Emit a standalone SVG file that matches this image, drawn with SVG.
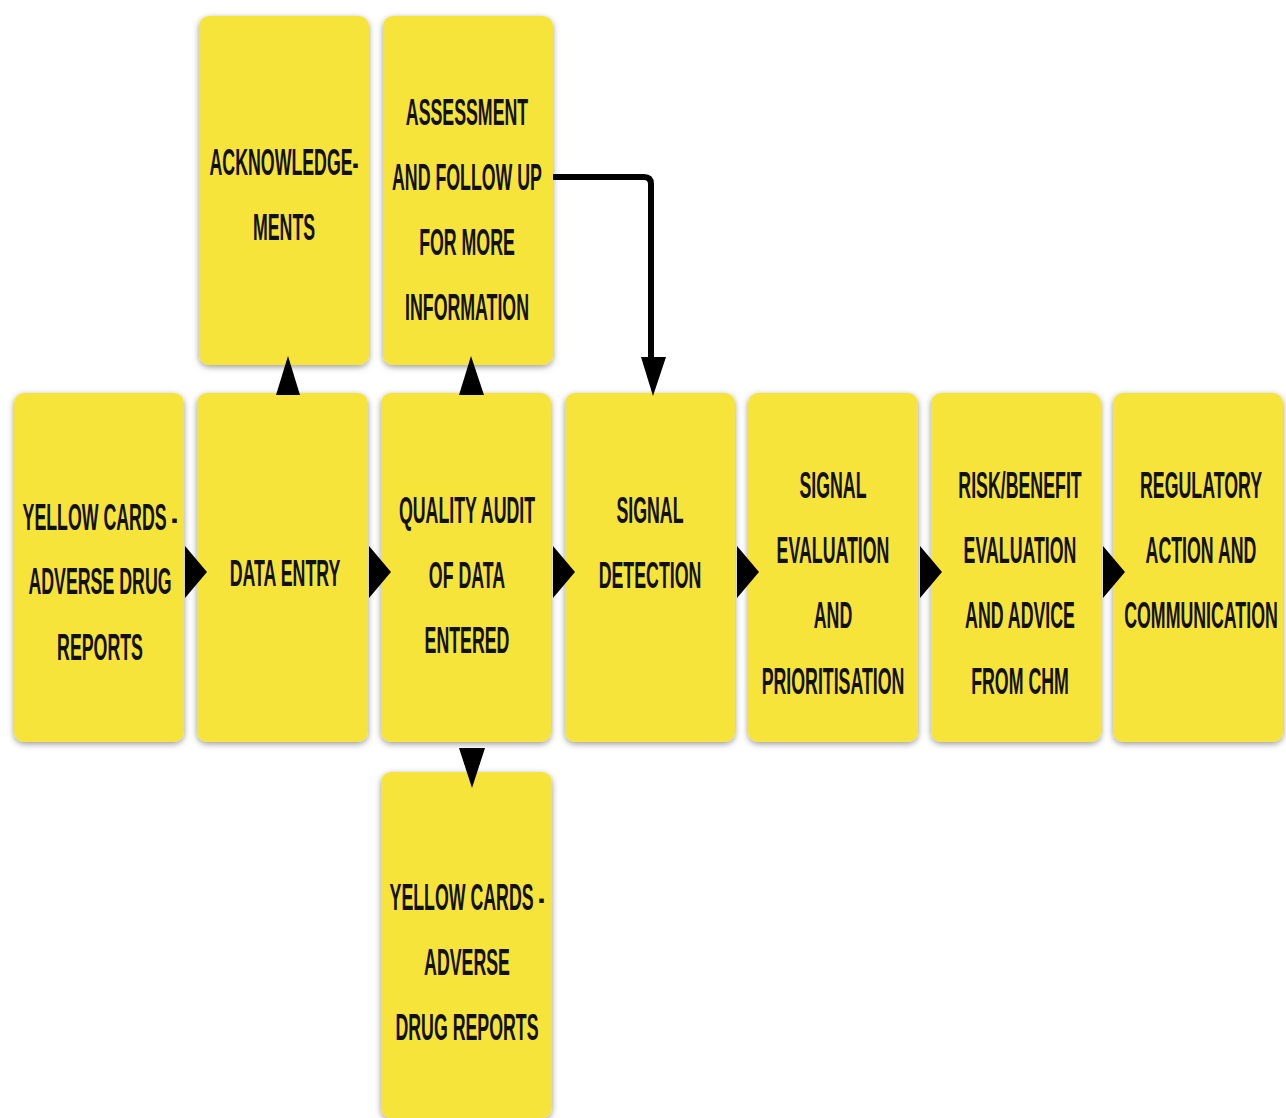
<svg xmlns="http://www.w3.org/2000/svg" width="1286" height="1118" viewBox="0 0 1286 1118">
<style>
.box{fill:#F7E43A;filter:url(#sh);}
.t{font-family:"Liberation Sans",Arial,sans-serif;font-weight:bold;font-size:37px;fill:#111;text-anchor:middle;}
.ah{fill:#000;}
.ln{fill:none;stroke:#000;stroke-width:6;}
</style>
<defs>
<filter id="sh" x="-10%" y="-10%" width="120%" height="120%">
<feDropShadow dx="0" dy="2" stdDeviation="3" flood-color="#000" flood-opacity="0.4"/>
</filter>
</defs>
<rect width="1286" height="1118" fill="#fff"/>

<g id="n-yellow1">
<rect class="box" x="14" y="393" width="170" height="349" rx="10"/>
<g transform="translate(100,0) scale(0.48,1)" class="t">
<text class="t" x="0" y="530">YELLOW CARDS -</text>
<text class="t" x="0" y="594">ADVERSE DRUG</text>
<text class="t" x="0" y="660">REPORTS</text>
</g>
</g>

<g id="n-dataentry">
<rect class="box" x="197" y="393" width="171" height="349" rx="10"/>
<g transform="translate(285,0) scale(0.48,1)">
<text class="t" x="0" y="586">DATA ENTRY</text>
</g>
</g>

<g id="n-quality">
<rect class="box" x="381" y="393" width="170" height="349" rx="10"/>
<g transform="translate(467,0) scale(0.48,1)">
<text class="t" x="0" y="523">QUALITY AUDIT</text>
<text class="t" x="0" y="588">OF DATA</text>
<text class="t" x="0" y="653">ENTERED</text>
</g>
</g>

<g id="n-signaldet">
<rect class="box" x="565" y="393" width="170" height="349" rx="10"/>
<g transform="translate(650,0) scale(0.48,1)">
<text class="t" x="0" y="523">SIGNAL</text>
<text class="t" x="0" y="588">DETECTION</text>
</g>
</g>

<g id="n-signaleval">
<rect class="box" x="748" y="393" width="170" height="349" rx="10"/>
<g transform="translate(833,0) scale(0.48,1)">
<text class="t" x="0" y="498">SIGNAL</text>
<text class="t" x="0" y="563">EVALUATION</text>
<text class="t" x="0" y="628">AND</text>
<text class="t" x="0" y="694">PRIORITISATION</text>
</g>
</g>

<g id="n-risk">
<rect class="box" x="931" y="393" width="170" height="349" rx="10"/>
<g transform="translate(1020,0) scale(0.48,1)">
<text class="t" x="0" y="498">RISK/BENEFIT</text>
<text class="t" x="0" y="563">EVALUATION</text>
<text class="t" x="0" y="628">AND ADVICE</text>
<text class="t" x="0" y="694">FROM CHM</text>
</g>
</g>

<g id="n-regulatory">
<rect class="box" x="1113" y="393" width="170" height="349" rx="10"/>
<g transform="translate(1201,0) scale(0.48,1)">
<text class="t" x="0" y="498">REGULATORY</text>
<text class="t" x="0" y="563">ACTION AND</text>
<text class="t" x="0" y="628">COMMUNICATION</text>
</g>
</g>

<g id="n-ack">
<rect class="box" x="199" y="16" width="170" height="349" rx="10"/>
<g transform="translate(284,0) scale(0.48,1)">
<text class="t" x="0" y="175">ACKNOWLEDGE-</text>
<text class="t" x="0" y="240">MENTS</text>
</g>
</g>

<g id="n-assess">
<rect class="box" x="383" y="16" width="170" height="349" rx="10"/>
<g transform="translate(467,0) scale(0.48,1)">
<text class="t" x="0" y="125">ASSESSMENT</text>
<text class="t" x="0" y="190">AND FOLLOW UP</text>
<text class="t" x="0" y="255">FOR MORE</text>
<text class="t" x="0" y="320">INFORMATION</text>
</g>
</g>

<g id="n-yellow2">
<rect class="box" x="381" y="772" width="171" height="346" rx="10"/>
<g transform="translate(467,0) scale(0.48,1)">
<text class="t" x="0" y="910">YELLOW CARDS -</text>
<text class="t" x="0" y="975">ADVERSE</text>
<text class="t" x="0" y="1040">DRUG REPORTS</text>
</g>
</g>

<g id="connectors">
<polygon class="ah" points="185,546 207,572 185,598"/>
<polygon class="ah" points="369,546 391,572 369,598"/>
<polygon class="ah" points="553,546 575,572 553,598"/>
<polygon class="ah" points="737,546 759,572 737,598"/>
<polygon class="ah" points="920,546 942,572 920,598"/>
<polygon class="ah" points="1103,546 1125,572 1103,598"/>
<polygon class="ah" points="276,395 288,356 300,395"/>
<polygon class="ah" points="459,395 471,356 484,395"/>
<polygon class="ah" points="459,748 485,748 472,788"/>
<path class="ln" d="M553,177 H644 Q651,177 651,184 V360"/>
<polygon class="ah" points="641,357 666,357 653,396"/>
</g>
</svg>
